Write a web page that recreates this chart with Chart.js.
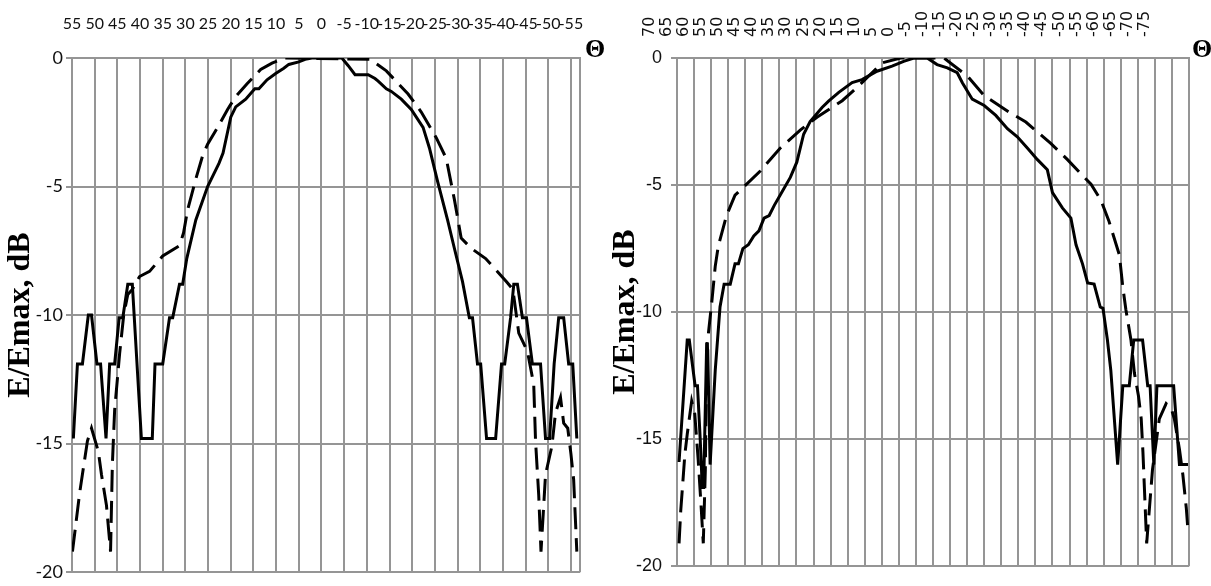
<!DOCTYPE html>
<html lang="ru">
<head>
<meta charset="UTF-8">
<title>E/Emax, dB</title>
<script src="https://cdn.jsdelivr.net/npm/chart.js"></script>
<style>
  body { margin: 0; background: #fff; }
  .wrap { display: flex; width: 1211px; height: 586px; }
  canvas { display: block; }
</style>
</head>
<body>
<div class="wrap">
  <canvas id="left" width="605" height="586"></canvas>
  <canvas id="right" width="606" height="586"></canvas>
</div>
<script>
// tick labels
const leftAngles = [55, 50, 45, 40, 35, 30, 25, 20, 15, 10, 5, 0, -5, -10, -15, -20, -25, -30, -35, -40, -45, -50, -55];
const rightAngles = [70, 65, 60, 55, 50, 45, 40, 35, 30, 25, 20, 15, 10, 5, 0, -5, -10, -15, -20, -25, -30, -35, -40, -45, -50, -55, -60, -65, -70, -75];
const dbTicks = [0, -5, -10, -15, -20];

// left pattern, solid line
const leftSolidDeg = [54.7, 53.8, 52.7, 51.4, 50.7, 49.5, 48.7, 47.5, 46.7, 45.6, 44.6, 43.8, 42.7, 41.7, 39.7, 37.3, 36.7, 35, 33.5, 32.8, 31.3, 30.6, 29.7, 27.7, 25.1, 22.6, 21.7, 20, 18.9, 16.7, 14.7, 13.8, 12, 10.1, 8.3, 7.2, 5, 3.6, 2.1, -2.3, -4.5, -5.9, -7.4, -10.3, -11.8, -12.5, -14.3, -15.4, -17.6, -19.8, -22.4, -23.8, -25.6, -27.8, -29.3, -31.1, -32.6, -33.3, -34.4, -35.1, -36.4, -38.4, -39.7, -40.4, -41.7, -42.4, -43.2, -44.3, -45.2, -46.5, -48.3, -49.4, -50.3, -51.3, -52.3, -53.4, -54.5, -55.4, -56.3];
const leftSolidDb = [-14.8, -11.9, -11.9, -10, -10, -11.9, -11.9, -14.8, -11.9, -11.9, -10.1, -10.1, -8.8, -8.8, -14.8, -14.8, -11.9, -11.9, -10.1, -10.1, -8.8, -8.8, -7.8, -6.3, -5, -4.1, -3.7, -2.3, -1.9, -1.6, -1.2, -1.2, -0.85, -0.6, -0.4, -0.25, -0.15, -0.05, 0, 0, 0, -0.3, -0.65, -0.65, -0.8, -0.9, -1.2, -1.3, -1.6, -2, -2.7, -3.5, -4.8, -6.3, -7.4, -8.7, -10.1, -10.1, -11.9, -11.9, -14.8, -14.8, -11.9, -11.9, -10.1, -8.8, -8.8, -10.1, -10.1, -11.9, -11.9, -14.8, -14.8, -11.9, -10.1, -10.1, -11.9, -11.9, -14.8];

// left pattern, dashed line
const leftDashDeg = [54.9, 53.3, 51.6, 50.7, 49.2, 48.5, 47.4, 46.5, 46.1, 45.6, 44.5, 43.6, 42.7, 41.7, 40.1, 37.9, 35, 31.3, 30.4, 29.5, 27.7, 26.2, 25.1, 22.9, 20.7, 18.9, 16.4, 13.4, 10.9, 8, -10.7, -14.3, -19.1, -22, -25.3, -27.5, -29.3, -30.8, -33, -36.2, -40.8, -42.2, -43.5, -45.4, -46.8, -47.2, -47.9, -48.4, -49.4, -50.8, -51.6, -52.7, -53.4, -54.3, -55, -55.6, -56.3];
const leftDashDb = [-19.2, -16.9, -14.9, -14.4, -15.3, -16.2, -17.4, -19.2, -15.8, -13.7, -11.5, -10, -9.2, -9, -8.5, -8.3, -7.7, -7.3, -6.8, -5.9, -4.7, -3.8, -3.35, -2.7, -2, -1.5, -1, -0.45, -0.2, 0, -0.05, -0.5, -1.4, -2.1, -3.1, -3.9, -5.5, -7, -7.4, -7.8, -8.7, -9, -10.7, -11.4, -12.7, -14.9, -17, -19.2, -16.2, -15.1, -13.8, -13.2, -14.2, -14.4, -15.4, -16.4, -19.2];

// right pattern, solid line
const rightSolidDeg = [69.4, 67, 66.4, 64.7, 64, 63.2, 62.6, 62.2, 61.3, 61, 60.3, 58.8, 57.4, 56.2, 54.4, 53, 52, 50.7, 49.1, 47.5, 46, 44.5, 43, 41.5, 39.8, 36.8, 34.9, 32.9, 31, 27.5, 25.6, 22.6, 18.7, 15.8, 11.4, 7, 3.6, 0.6, -1, -3.3, -6.2, -9.2, -12.1, -13.6, -16.5, -20, -23.4, -26.8, -29.7, -32.7, -35.6, -38.5, -40, -42.9, -45.4, -46.9, -48.8, -50.3, -52.2, -54, -54.8, -56.1, -57.1, -59.1, -60.6, -62.5, -63.8, -66.4, -67.9, -68.6, -69.7, -70.6, -75.5, -77.2, -79.7];
const rightSolidDb = [-15.9, -11.1, -11.1, -12.9, -12.9, -15, -16.9, -16.9, -11.2, -11.5, -16, -12.3, -9.8, -8.9, -8.9, -8.1, -8.1, -7.5, -7.35, -7, -6.8, -6.3, -6.2, -5.8, -5.4, -4.7, -4.1, -3, -2.5, -1.95, -1.7, -1.35, -0.97, -0.85, -0.52, -0.32, -0.13, 0, 0, 0, -0.26, -0.39, -0.58, -0.97, -1.62, -1.87, -2.26, -2.78, -3.1, -3.55, -4, -4.4, -5.3, -5.9, -6.3, -7.35, -8.1, -8.85, -8.9, -9.8, -9.85, -11.1, -12.3, -16, -12.9, -12.9, -11.1, -11.1, -12.9, -12.9, -16, -12.9, -12.9, -16, -16];

// right pattern, dashed line
const rightDashDeg = [69.4, 68.9, 68.4, 67.7, 67, 65.7, 64.8, 63.8, 63, 62.3, 61.7, 61.5, 61.1, 59.8, 58.8, 57.9, 55.5, 53, 45.6, 39.8, 33.9, 29, 21.6, 16.8, 9.9, 4.5, -2.8, -8.2, -15.1, -20, -27.3, -32.2, -39.5, -44.4, -51.3, -54.2, -56.5, -59.6, -60.6, -61.5, -63, -64, -65.2, -66, -66.5, -67.6, -69.3, -71.3, -73.3, -74.8, -75.7, -77.2, -78.2, -79.2, -79.7];
const rightDashDb = [-19.1, -17.8, -16.9, -15.6, -14.8, -13.5, -14, -15.8, -17.5, -19.1, -16.2, -13.8, -11.2, -9.6, -8.2, -7.4, -6.2, -5.4, -4.45, -3.55, -2.84, -2.33, -1.68, -1.1, -0.19, 0, 0, 0, -0.71, -1.48, -2.13, -2.52, -3.36, -4, -4.97, -5.6, -6.4, -7.75, -9, -9.9, -11.1, -12.4, -13.3, -14.2, -15.5, -19.1, -16.2, -14.2, -13.6, -13.8, -14.2, -15.4, -16.4, -17.7, -18.6];

const gridGray = '#959595';

function points(deg, db) {
  return deg.map((x, i) => ({ x: x, y: db[i] }));
}

// the theta sign at the right end of the top axis
const thetaMark = {
  id: 'thetaMark',
  afterDraw(chart, args, opts) {
    const { ctx, chartArea } = chart;
    ctx.save();
    ctx.font = 'bold 26px "Liberation Serif"';
    ctx.fillStyle = '#000';
    ctx.textAlign = 'left';
    ctx.textBaseline = 'middle';
    ctx.fillText('\u0398', chartArea.right + opts.dx, chartArea.top - 8);
    ctx.restore();
  }
};

function makeChart(id, cfg) {
  const ctx = document.getElementById(id).getContext('2d');
  return new Chart(ctx, {
    type: 'line',
    data: {
      datasets: [
        {
          data: points(cfg.solidDeg, cfg.solidDb),
          borderColor: '#000',
          borderWidth: 3,
          pointRadius: 0,
          fill: false,
          tension: 0
        },
        {
          data: points(cfg.dashDeg, cfg.dashDb),
          borderColor: '#000',
          borderWidth: 3,
          borderDash: [22, 9],
          pointRadius: 0,
          fill: false,
          tension: 0
        }
      ]
    },
    options: {
      responsive: false,
      animation: false,
      layout: { padding: { left: 0, top: 0, right: cfg.padRight, bottom: 11 } },
      plugins: {
        legend: { display: false },
        tooltip: { enabled: false },
        thetaMark: { dx: cfg.thetaDx }
      },
      scales: {
        x: {
          type: 'linear',
          position: 'top',
          reverse: true,
          min: cfg.minDeg,
          max: cfg.maxDeg,
          afterBuildTicks: axis => {
            axis.ticks = cfg.angles.concat([cfg.minDeg]).map(v => ({ value: v }));
          },
          afterFit: scale => { scale.height = 58; },
          grid: { color: gridGray, lineWidth: 2, drawTicks: false },
          border: { color: gridGray, width: 2 },
          ticks: {
            autoSkip: false,
            minRotation: cfg.rotation,
            maxRotation: cfg.rotation,
            padding: cfg.xPad,
            labelOffset: cfg.xShift,
            color: '#111',
            font: cfg.xFont,
            callback: v => cfg.angles.includes(v) ? String(v) : ''
          }
        },
        y: {
          min: -20,
          max: 0,
          afterBuildTicks: axis => {
            axis.ticks = dbTicks.map(v => ({ value: v }));
          },
          afterFit: scale => { scale.width = 72; },
          grid: { color: gridGray, lineWidth: 2, drawTicks: true, tickLength: 6 },
          border: { color: gridGray, width: 2 },
          ticks: {
            padding: cfg.yPad,
            color: '#111',
            font: cfg.yFont,
            callback: v => String(v)
          },
          title: {
            display: true,
            text: 'E/Emax, dB',
            color: '#000',
            font: { family: '"Liberation Serif", serif', size: 32, weight: 'bold' },
            padding: { top: 2, bottom: 0 }
          }
        }
      }
    },
    plugins: [thetaMark]
  });
}

makeChart('left', {
  solidDeg: leftSolidDeg, solidDb: leftSolidDb,
  dashDeg: leftDashDeg, dashDb: leftDashDb,
  angles: leftAngles, minDeg: -57, maxDeg: 55,
  rotation: 0, xPad: 25, xShift: 0,
  xFont: { family: 'Lato', size: 16 },
  yFont: { family: 'Lato', size: 18 },
  yPad: 3, padRight: 22, thetaDx: 5
});

makeChart('right', {
  solidDeg: rightSolidDeg, solidDb: rightSolidDb,
  dashDeg: rightDashDeg, dashDb: rightDashDb,
  angles: rightAngles, minDeg: -80, maxDeg: 70,
  rotation: 90, xPad: 21, xShift: -8,
  xFont: { family: '"DejaVu Sans"', size: 16 },
  yFont: { family: '"Liberation Sans Narrow", "Liberation Sans"', size: 18 },
  yPad: 9, padRight: 22, thetaDx: 3
});
</script>
</body>
</html>
